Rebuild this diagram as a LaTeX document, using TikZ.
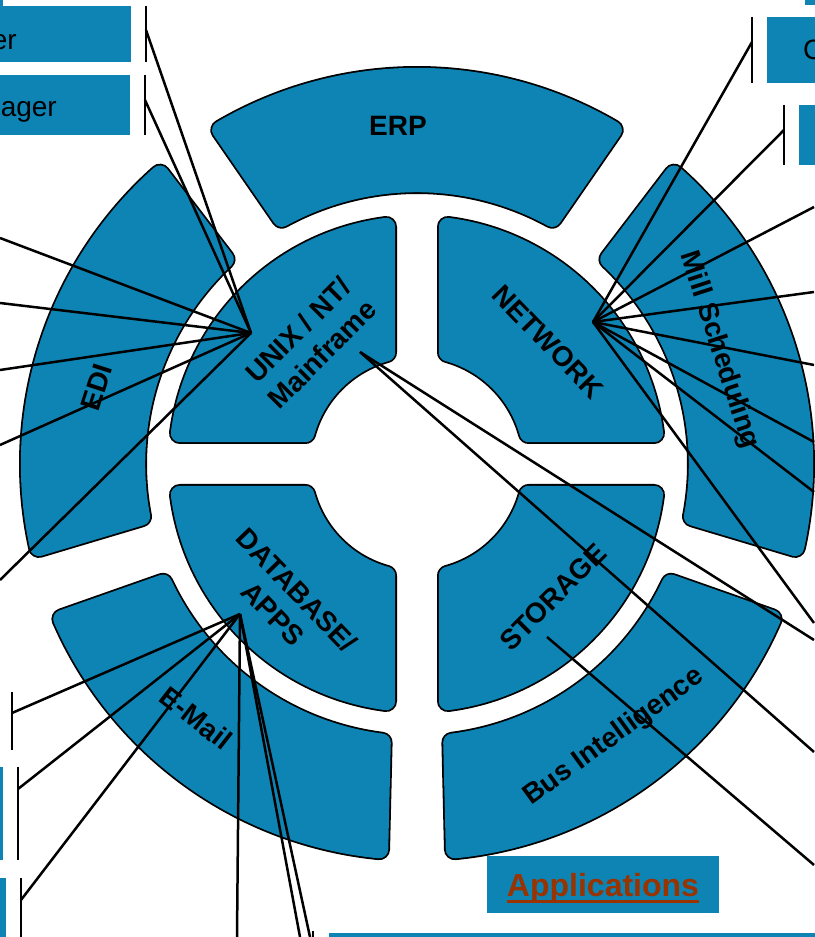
\documentclass[tikz,border=0pt]{standalone}
\usepackage{fontspec}
\setmainfont{Liberation Sans}
\usetikzlibrary{calc}
\definecolor{segblue}{RGB}{14,132,180}
\definecolor{appred}{RGB}{153,51,0}

\begin{document}
\begin{tikzpicture}[x=1pt,y=1pt,
  % rounded blocks: the path is an inset outline, widened by round-joined strokes
  seg/.style={fill=segblue,draw=segblue,line width=18pt,line join=round,
    preaction={draw=black,line width=21.6pt,line join=round}},
  lbl/.style={font=\fontsize{28}{34}\selectfont\bfseries,align=center,inner sep=0pt},
  link/.style={line width=2.5pt,black},
  bar/.style={line width=2.8pt,black},
  tagtext/.style={font=\fontsize{28}{31}\selectfont,inner sep=0pt}]
\useasboundingbox (0,0) rectangle (814,937);
\coordinate (C) at (417,473);
% inset = corner radius + border width
\pgfmathsetmacro{\ins}{10.8}

% outer ring: five segments of 64 degrees
\pgfmathsetmacro{\segRi}{270+\ins}
\pgfmathsetmacro{\segRo}{398-\ins}
\pgfmathsetmacro{\segHi}{31-asin(\ins/\segRi)}
\pgfmathsetmacro{\segHo}{32-asin(\ins/\segRo)}
\foreach \c in {90,162,234,306,18}{
  \path[seg] ($(C)+(\c-\segHi:\segRi)$) -- ($(C)+(\c-\segHo:\segRo)$)
    arc[start angle=\c-\segHo,end angle=\c+\segHo,radius=\segRo]
    -- ($(C)+(\c+\segHi:\segRi)$)
    arc[start angle=\c+\segHi,end angle=\c-\segHi,radius=\segRi] -- cycle;
}

% inner ring: four quadrants split by a cross-shaped gap
\pgfmathsetmacro{\quadG}{20+\ins}
\pgfmathsetmacro{\quadRi}{105+\ins}
\pgfmathsetmacro{\quadRo}{250-\ins}
\pgfmathsetmacro{\quadFi}{asin(\quadG/\quadRi)}
\pgfmathsetmacro{\quadFo}{asin(\quadG/\quadRo)}
\foreach \q in {45,135,225,315}{
  \path[seg] ($(C)+(\q-45+\quadFi:\quadRi)$) -- ($(C)+(\q-45+\quadFo:\quadRo)$)
    arc[start angle=\q-45+\quadFo,end angle=\q+45-\quadFo,radius=\quadRo]
    -- ($(C)+(\q+45-\quadFi:\quadRi)$)
    arc[start angle=\q+45-\quadFi,end angle=\q-45+\quadFi,radius=\quadRi] -- cycle;
}

% segment labels
\node[lbl] (erp) at (398,811) {ERP};
\node[lbl,rotate=72] (edi) at (97,550) {EDI};
\node[lbl,rotate=-72] (mill) at (719,587) {Mill Scheduling};
\node[lbl,rotate=36] (bi) at (614,200) {Bus Intelligence};
\node[lbl,rotate=-38] (mail) at (196,219) {E-Mail};
\node[lbl,rotate=45] (unix) at (310,595) {UNIX / NT/\\Mainframe};
\node[lbl,rotate=-46] (net) at (548,595) {NETWORK};
\node[lbl,rotate=-46] (db) at (285,335) {DATABASE/\\APPS};
\node[lbl,rotate=45] (stor) at (553,340) {STORAGE};

% side tags
\fill[segblue] (-10,931) rectangle (131,875);
\fill[segblue] (-10,862) rectangle (130,802);
\fill[segblue] (-10,942) rectangle (3,931);
\fill[segblue] (767,920) rectangle (840,854);
\fill[segblue] (799,832) rectangle (840,772);
\fill[segblue] (805,942) rectangle (840,932);
\fill[segblue] (-10,170) rectangle (3,77);
\fill[segblue] (-10,59) rectangle (6,-8);
\fill[segblue] (329,4) rectangle (840,-8);
\node[tagtext,anchor=base east] (tagA) at (17,887) {er};
\node[tagtext,anchor=base east] (tagB) at (57,820) {ager};
\node[tagtext,anchor=base west] (tagC) at (803,877) {C};

% caption
\fill[segblue] (487,81) rectangle (719,24);
\node[font=\fontsize{32}{36}\selectfont\bfseries,text=appred,inner sep=0pt,anchor=base]
  (app) at (603,40) {Applications};
\draw[appred,line width=3pt] ($(app.base west)+(0,-5)$) -- ($(app.base east)+(0,-5)$);

% hubs
\coordinate (hubU) at (251,604);
\coordinate (hubM) at (360,585);
\coordinate (hubN) at (593,615);
\coordinate (hubD) at (240,323);
\coordinate (hubS) at (547,300);

% tick bars at the tag ends
\draw[bar] (146,931) -- (146,875);
\draw[bar] (145,862) -- (145,802);
\draw[bar] (752,920) -- (752,854);
\draw[bar] (784,832) -- (784,772);
\draw[bar] (12,245) -- (12,187);
\draw[bar] (18,170) -- (18,77);
\draw[bar] (21,59) -- (21,-8);
\draw[bar] (313,6) -- (313,-8);

% connectors
\foreach \x/\y [count=\i] in {146/907,145/837,0/699,0/634,0/567,0/492,0/357}{
  \coordinate (u\i) at (\x,\y);
  \draw[link] (hubU) -- (u\i);
}
\foreach \x/\y [count=\i] in {814/297,814/185}{
  \coordinate (m\i) at (\x,\y);
  \draw[link] (hubM) -- (m\i);
}
\foreach \x/\y [count=\i] in {752/895,784/807,814/730,814/645,814/572,814/495,814/445,814/314}{
  \coordinate (n\i) at (\x,\y);
  \draw[link] (hubN) -- (n\i);
}
\foreach \x/\y [count=\i] in {12/224,18/148,21/37,237/0,300/0,310/0}{
  \coordinate (d\i) at (\x,\y);
  \draw[link] (hubD) -- (d\i);
}
\coordinate (s1) at (814,72);
\draw[link] (hubS) -- (s1);
\end{tikzpicture}
\end{document}
